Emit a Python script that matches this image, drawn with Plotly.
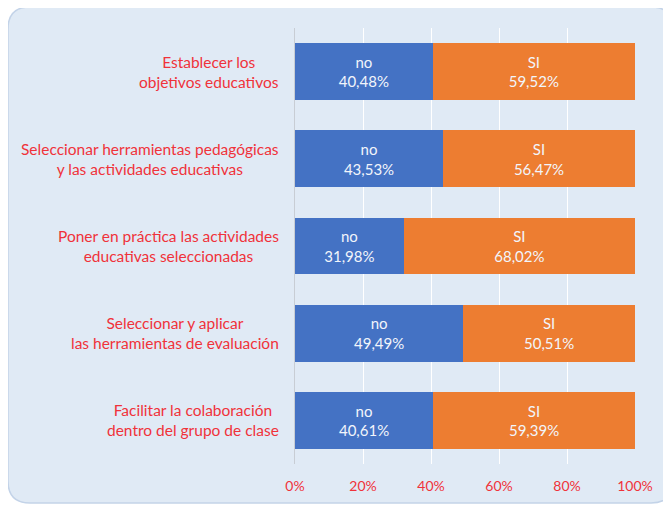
import plotly.graph_objects as go

categories = [
    "Establecer los<br>objetivos educativos",
    "Seleccionar herramientas pedagógicas<br>y las actividades educativas",
    "Poner en práctica las actividades<br>educativas seleccionadas",
    "Seleccionar y aplicar<br>las herramientas de evaluación",
    "Facilitar la colaboración<br>dentro del grupo de clase",
]
no_values = [40.48, 43.53, 31.98, 49.49, 40.61]
si_values = [59.52, 56.47, 68.02, 50.51, 59.39]
series_names = ["no", "SI"]
tick_vals = [0, 20, 40, 60, 80, 100]
tick_text = ["0%", "20%", "40%", "60%", "80%", "100%"]

# page body has an 8px margin; work in figure coordinates (screen - 8)
OFF = 8
W, H = 671, 508
L, T = 295 - OFF, 28 - OFF
plot_bottom = 464 - OFF
pw = 340
ph = plot_bottom - T
R = W - L - pw
B = H - plot_bottom

def px(x):
    return (x - OFF - L) / pw

def py(y):
    return (plot_bottom - (y - OFF)) / ph

def fmt(v):
    return f"{v:.2f}".replace(".", ",") + "%"

fig = go.Figure()
for name, vals, color in [(series_names[0], no_values, "#4472C4"),
                          (series_names[1], si_values, "#ED7D31")]:
    fig.add_trace(go.Bar(
        y=categories, x=vals, orientation="h", name=name,
        marker=dict(color=color, line=dict(width=0)),
        text=[f"{name}<br>{fmt(v)}" for v in vals],
        textposition="inside", insidetextanchor="middle",
        textfont=dict(color="#f2f5fb", size=15, family="Lato"),
        hoverinfo="skip",
    ))

# rounded panel (screen coords)
x0, y0, x1, y1, r = 8, 7, 673, 503, 22
path = (f"M {px(x0 + r)},{py(y0)} L {px(x1 - r)},{py(y0)} "
        f"Q {px(x1)},{py(y0)} {px(x1)},{py(y0 + r)} "
        f"L {px(x1)},{py(y1 - r)} Q {px(x1)},{py(y1)} {px(x1 - r)},{py(y1)} "
        f"L {px(x0 + r)},{py(y1)} Q {px(x0)},{py(y1)} {px(x0)},{py(y1 - r)} "
        f"L {px(x0)},{py(y0 + r)} Q {px(x0)},{py(y0)} {px(x0 + r)},{py(y0)} Z")
fig.add_shape(type="path", path=path, xref="paper", yref="paper",
              fillcolor="#e0eaf5", line=dict(color="#c3d3e8", width=1.5),
              layer="below")

annotations = []
for c in categories:
    annotations.append(dict(
        x=px(281), xref="paper", y=c, yref="y", text=c, showarrow=False,
        xanchor="right", align="center",
        font=dict(color="#f0323a", size=15.5, family="Lato"),
    ))

fig.update_layout(
    width=W, height=H, barmode="stack", bargap=0.35,
    margin=dict(l=L, r=R, t=T, b=B),
    paper_bgcolor="white", plot_bgcolor="rgba(0,0,0,0)",
    showlegend=False, annotations=annotations,
    xaxis=dict(range=[0, 100], tickvals=tick_vals, ticktext=tick_text,
               showgrid=True, gridcolor="white", gridwidth=1.2,
               zeroline=False, showline=False, ticks="",
               tickfont=dict(color="#f0323a", size=14, family="Lato"),
               fixedrange=True),
    yaxis=dict(autorange="reversed", showticklabels=False, showgrid=False,
               showline=True, linecolor="#c8cdd4", linewidth=1, ticks="",
               zeroline=False, fixedrange=True),
)
fig.update_xaxes(ticklabelstandoff=12)

fig.write_html("out.html")
